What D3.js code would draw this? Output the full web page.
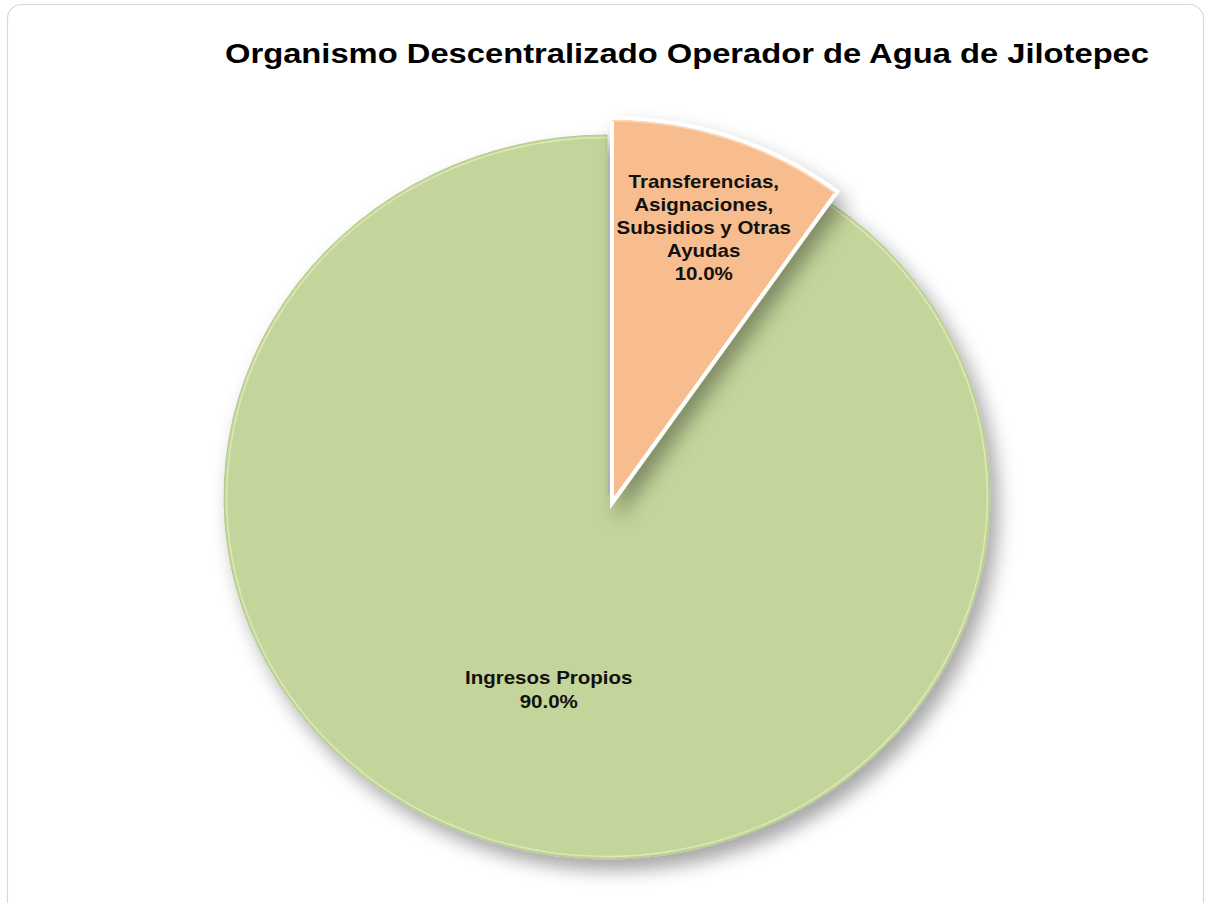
<!DOCTYPE html>
<html>
<head>
<meta charset="utf-8">
<script src="https://cdn.jsdelivr.net/npm/d3@7"></script>
<style>
  html, body { margin: 0; padding: 0; background: #ffffff; }
  svg { display: block; }
</style>
</head>
<body>
<script>
// ---- data ----
const title = "Organismo Descentralizado Operador de Agua de Jilotepec";
const categories = ["Transferencias, Asignaciones, Subsidios y Otras Ayudas", "Ingresos Propios"];
const values = [10.0, 90.0];
const labelLines = [
  ["Transferencias,", "Asignaciones,", "Subsidios y Otras", "Ayudas"],
  ["Ingresos Propios"]
];
const colors = ["#f8bd8e", "#c3d59a"];

// ---- layout ----
const W = 1207, H = 903;
const svg = d3.select("body").append("svg").attr("width", W).attr("height", H);

const defs = svg.append("defs");
const f = defs.append("filter").attr("id", "shadow").attr("x", "-10%").attr("y", "-10%").attr("width", "120%").attr("height", "120%");
f.append("feDropShadow").attr("dx", 2).attr("dy", 3).attr("stdDeviation", 2.5)
  .attr("flood-color", "#000").attr("flood-opacity", 0.35);

// outer frame
svg.append("rect").attr("x", 7.5).attr("y", 4.5).attr("width", 1196).attr("height", 930)
  .attr("rx", 14).attr("fill", "#ffffff").attr("stroke", "#d9d9d9").attr("stroke-width", 1.2);

svg.append("text")
  .attr("x", 687).attr("y", 63)
  .attr("text-anchor", "middle")
  .attr("font-family", "Liberation Sans, Arial, sans-serif")
  .attr("font-weight", "bold")
  .attr("font-size", 28)
  .attr("textLength", 924).attr("lengthAdjust", "spacingAndGlyphs")
  .attr("fill", "#000")
  .text(title);

const R = 100;
const pie = d3.pie().sort(null).value(d => d)(values);
const arc = d3.arc().innerRadius(0).outerRadius(R);

// per-slice geometry (centre and radii, orange slice exploded)
const geom = [
  { cx: 612, cy: 503, rx: 383, ry: 385, lr: 0.75, white: true },
  { cx: 607, cy: 497, rx: 383, ry: 362, lr: 0.56, white: false }
];

// draw green first, orange on top
[1, 0].forEach(i => {
  const p = pie[i], g = geom[i];
  const grp = svg.append("g")
    .attr("transform", `translate(${g.cx},${g.cy}) scale(${g.rx / R},${g.ry / R})`);
  grp.append("path")
    .attr("d", arc(p))
    .attr("fill", colors[i])
    .attr("stroke", g.white ? "#ffffff" : "#b4c98a")
    .attr("stroke-width", g.white ? 4 : 1)
    .attr("stroke-linejoin", "miter")
    .attr("vector-effect", "non-scaling-stroke")
    .attr("filter", "url(#shadow)");
  const rim = d3.arc().innerRadius(R * 0.993).outerRadius(R * 0.993)
    .startAngle(p.startAngle).endAngle(p.endAngle);
  grp.append("path")
    .attr("d", rim())
    .attr("fill", "none")
    .attr("stroke", i === 1 ? "#dbe8b8" : "#fdd8b8")
    .attr("stroke-width", 1.5)
    .attr("vector-effect", "non-scaling-stroke");
});

// labels
[0, 1].forEach(i => {
  const p = pie[i], g = geom[i];
  const a = (p.startAngle + p.endAngle) / 2;
  const lx = g.cx + Math.sin(a) * g.rx * g.lr + (i === 1 ? 8 : 3);
  const ly = g.cy - Math.cos(a) * g.ry * g.lr;
  const lines = labelLines[i].concat([d3.format(".1f")(values[i]) + "%"]);
  const lh = i === 0 ? 23 : 24;
  const t = svg.append("g")
    .attr("transform", `translate(${lx},${ly}) scale(1.14,1)`)
    .append("text")
    .attr("text-anchor", "middle")
    .attr("font-family", "Liberation Sans, Arial, sans-serif")
    .attr("font-weight", "bold")
    .attr("font-size", 18)
    .attr("fill", "#111");
  const y0 = -(lines.length - 1) * lh / 2 + 6;
  lines.forEach((s, k) => {
    t.append("tspan").attr("x", 0).attr("y", y0 + k * lh).text(s);
  });
});
</script>
</body>
</html>
